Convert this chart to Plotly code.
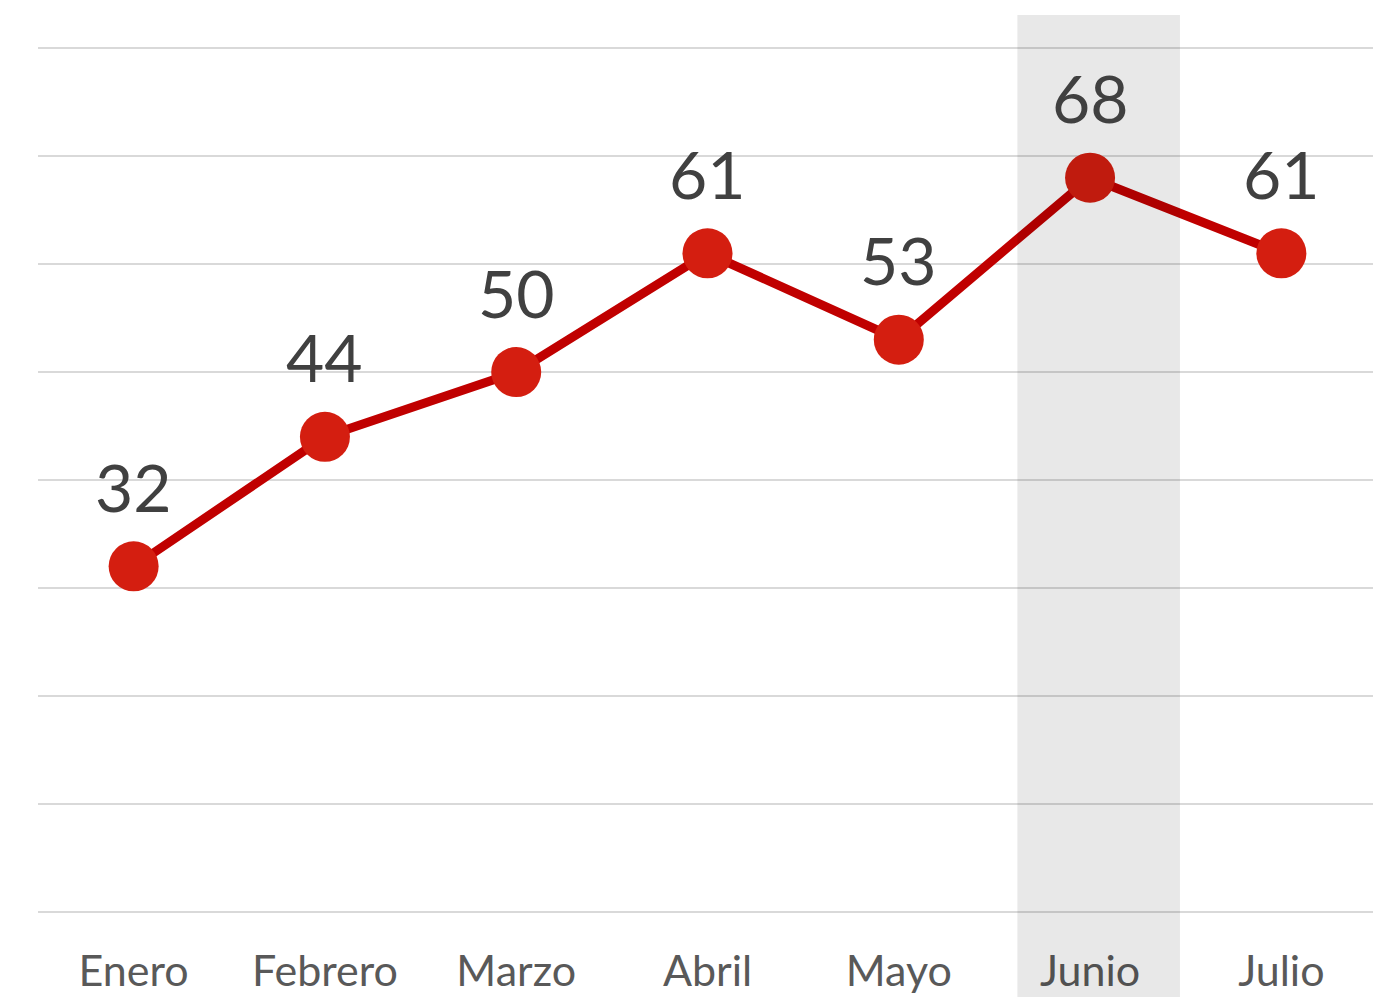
import plotly.graph_objects as go

months = ["Enero", "Febrero", "Marzo", "Abril", "Mayo", "Junio", "Julio"]
values = [32, 44, 50, 61, 53, 68, 61]
highlight_month = "Junio"

LINE_COLOR = "#C00000"
MARKER_COLOR = "#D41E10"
FONT = "Lato, 'Open Sans', sans-serif"

fig = go.Figure()
fig.add_trace(go.Scatter(
    x=months, y=values, mode="lines+markers",
    line=dict(color=LINE_COLOR, width=9),
    marker=dict(color=MARKER_COLOR, size=50, line=dict(width=0)),
    hoverinfo="skip", showlegend=False,
))

for m, v in zip(months, values):
    fig.add_annotation(x=m, y=v, text=str(v), showarrow=False,
                       yanchor="middle", yshift=80,
                       font=dict(family=FONT, size=66, color="#404040"))

hi = months.index(highlight_month)
fig.add_shape(type="rect", xref="x", yref="paper",
              x0=hi - 0.38, x1=hi + 0.47, y0=-0.2, y1=1.0357,
              fillcolor="rgba(0,0,0,0.09)", line=dict(width=0), layer="above")

fig.update_layout(
    width=1373, height=989,
    margin=dict(l=30, r=4, t=38, b=83),
    paper_bgcolor="white", plot_bgcolor="white",
    font=dict(family=FONT),
)
fig.update_xaxes(
    type="category", range=[-0.5, 6.5], showgrid=False, zeroline=False,
    showline=False, ticks="outside", ticklen=19, tickcolor="rgba(0,0,0,0)",
    tickfont=dict(family=FONT, size=43, color="#595959"), automargin=False,
)
fig.update_yaxes(
    range=[-0.2, 80.2], tick0=0, dtick=10, showgrid=True, gridcolor="#D9D9D9",
    gridwidth=2, zeroline=False, showticklabels=False, showline=False,
    automargin=False,
)

fig.write_html("out.html")
